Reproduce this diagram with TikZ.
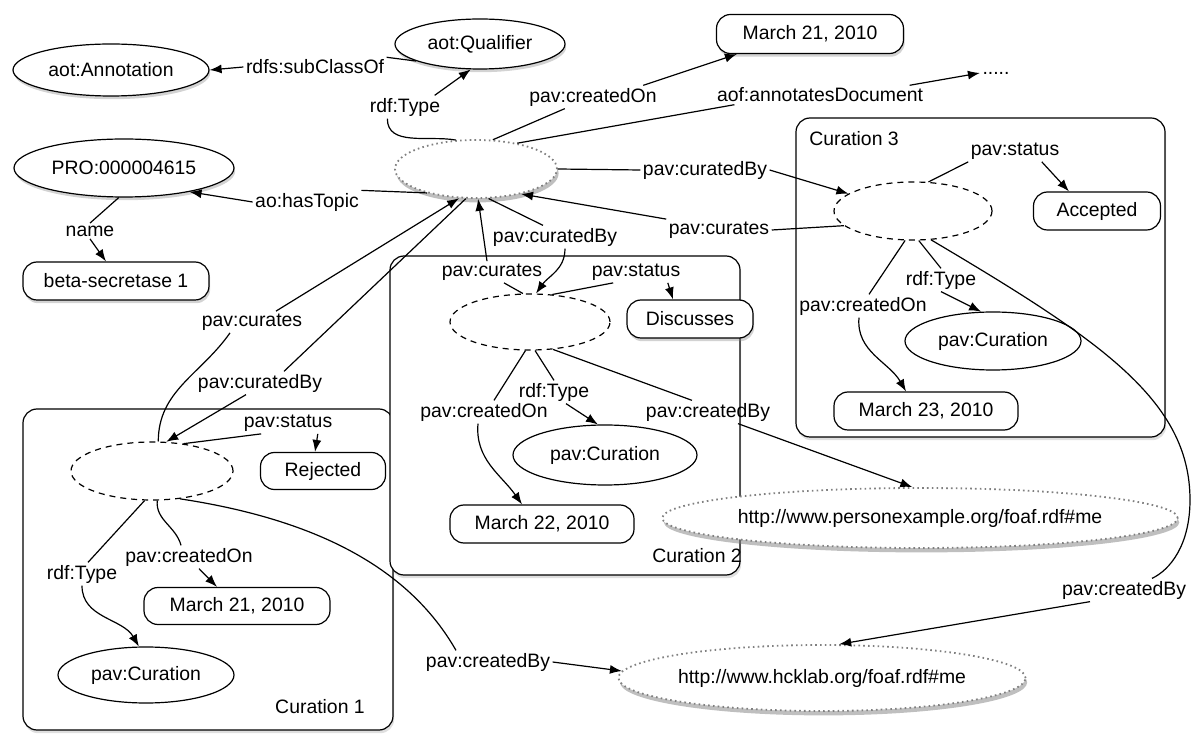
\documentclass[tikz,border=0pt]{standalone}
\usepackage{fontspec}
\setmainfont{Liberation Sans}
\usetikzlibrary{shapes.geometric,arrows.meta,shadows}
\begin{document}
\begin{tikzpicture}[x=0.5pt,y=-0.5pt,
  font=\fontsize{9.7}{11}\selectfont,
  line width=0.6pt,
  arr/.style={-{Latex[length=6pt,width=4.5pt]}},
  lbl/.style={inner sep=1pt},
  ell/.style={ellipse,draw,fill=white,inner sep=0pt},
  sol/.style={ell,drop shadow={shadow xshift=0.6pt,shadow yshift=-1.6pt,opacity=0.35}},
  dsh/.style={ell,dash pattern=on 3pt off 2.5pt},
  grey/.style={ell,draw=gray,dash pattern=on 0.8pt off 1.6pt,line width=0.9pt,drop shadow={shadow xshift=0.8pt,shadow yshift=-2.2pt,opacity=0.5}},
  rbox/.style={rectangle,draw,fill=white,rounded corners=7pt,inner sep=0pt},
  rboxs/.style={rbox,drop shadow={shadow xshift=0.6pt,shadow yshift=-1.6pt,opacity=0.35}},
  cbox/.style={rectangle,draw,fill=white,rounded corners=7pt,inner sep=0pt,drop shadow={shadow xshift=0.6pt,shadow yshift=-1.6pt,opacity=0.25}},
]
\useasboundingbox (0,0) rectangle (1200,753);

% curation boxes
\node[cbox,minimum width=185pt,minimum height=160.5pt] (box1) at (208,569.5) {};
\node[cbox,minimum width=175pt,minimum height=159.5pt] (box2) at (565,415.5) {};
\node[cbox,minimum width=184.5pt,minimum height=159.5pt] (box3) at (980.5,277.5) {};
\node[lbl] (t3) at (854,139) {Curation 3};
\node[lbl] (t2) at (697,556) {Curation 2};
\node[lbl] (t1) at (320,707) {Curation 1};

% top-level nodes
\node[sol,minimum width=98pt,minimum height=26pt] (annot) at (111,70) {aot:Annotation};
\node[sol,minimum width=85pt,minimum height=25pt] (qual) at (480,44) {aot:Qualifier};
\node[rboxs,minimum width=93.5pt,minimum height=19.5pt] (m21a) at (810,34) {March 21, 2010};
\node[lbl] (dots) at (996,73) {.....};
\node[sol,minimum width=110pt,minimum height=29pt] (pro) at (124,168) {PRO:000004615};
\node[rboxs,minimum width=93pt,minimum height=19pt] (beta) at (116,281) {beta-secretase 1};
\node[grey,minimum width=81pt,minimum height=29pt] (main) at (476,169) {};

% curation 3
\node[dsh,minimum width=79pt,minimum height=29pt] (c3) at (913,211) {};
\node[rbox,minimum width=63.5pt,minimum height=19pt] (acc) at (1097,211) {Accepted};
\node[ell,minimum width=88pt,minimum height=29pt] (pc3) at (993,341) {pav:Curation};
\node[rbox,minimum width=92pt,minimum height=19pt] (m23) at (926,411) {March 23, 2010};

% curation 2
\node[dsh,minimum width=80pt,minimum height=28pt] (c2) at (530,322) {};
\node[rboxs,minimum width=63pt,minimum height=19pt] (disc) at (690,319) {Discusses};
\node[ell,minimum width=92pt,minimum height=30pt] (pc2) at (605,455) {pav:Curation};
\node[rbox,minimum width=92pt,minimum height=19pt] (m22) at (542,524) {March 22, 2010};

% curation 1
\node[dsh,minimum width=81pt,minimum height=29pt] (c1) at (152,471) {};
\node[rbox,minimum width=62.5pt,minimum height=18.5pt] (rej) at (323,471) {Rejected};
\node[rbox,minimum width=93pt,minimum height=18.5pt] (m21b) at (237,606) {March 21, 2010};
\node[ell,minimum width=88pt,minimum height=28pt] (pc1) at (146,675) {pav:Curation};

% agents
\node[grey,minimum width=245pt,minimum height=30pt] (pe) at (920,518) {http://www.personexample.org/foaf.rdf\#me};
\node[grey,minimum width=199pt,minimum height=33pt] (hck) at (822,678) {http://www.hcklab.org/foaf.rdf\#me};

% labels
\node[lbl] (lsub) at (315,67) {rdfs:subClassOf};
\node[lbl] (ltype0) at (405,107) {rdf:Type};
\node[lbl] (lcon0) at (593,97) {pav:createdOn};
\node[lbl] (lannot) at (820,95) {aof:annotatesDocument};
\node[lbl] (lcby0) at (705,170) {pav:curatedBy};
\node[lbl] (lcur3) at (719,230) {pav:curates};
\node[lbl] (ltopic) at (307,202) {ao:hasTopic};
\node[lbl] (lname) at (90,231) {name};
\node[lbl] (lst3) at (1015,151) {pav:status};
\node[lbl] (lty3) at (941,280) {rdf:Type};
\node[lbl] (lco3) at (863,306) {pav:createdOn};
\node[lbl] (lcb3) at (1124,590) {pav:createdBy};
\node[lbl] (lcur2) at (492,272) {pav:curates};
\node[lbl] (lcby2) at (555,237) {pav:curatedBy};
\node[lbl] (lst2) at (636,272) {pav:status};
\node[lbl] (lty2) at (554,392) {rdf:Type};
\node[lbl] (lco2) at (484,412) {pav:createdOn};
\node[lbl] (lcb2) at (708,412) {pav:createdBy};
\node[lbl] (lcur1) at (252,322) {pav:curates};
\node[lbl] (lcby1) at (260,383) {pav:curatedBy};
\node[lbl] (lst1) at (288,423) {pav:status};
\node[lbl] (lco1) at (189,557) {pav:createdOn};
\node[lbl] (lty1) at (82,574) {rdf:Type};
\node[lbl] (lcb1) at (488,662) {pav:createdBy};

% edges: top
\draw (qual.195) -- (lsub.north east);
\draw[arr] (lsub.west) -- (annot.east);
\draw (main.125) to[out=170,in=-90] ([xshift=10pt]ltype0.south west);
\draw[arr] ([xshift=-4pt]ltype0.north east) -- (qual.250);
\draw (main.60) -- ([xshift=19pt]lcon0.south west);
\draw[arr] ([xshift=-8pt]lcon0.north east) -- ([xshift=10.5pt]m21a.south west);
\draw (main.32) -- ([xshift=10pt]lannot.south west);
\draw[arr] ([xshift=-8pt]lannot.north east) -- (dots.west);
\draw (main.east) -- (lcby0.west);
\draw[arr] (lcby0.east) -- (c3.165);
\draw (c3.192) -- (lcur3.east);
\draw[arr] (lcur3.north west) -- (main.-29);
\draw (main.206) -- (ltopic.north east);
\draw[arr] (ltopic.west) -- (pro.-20);
\draw (pro.-100) -- (lname.north);
\draw[arr] (lname.south) -- ([xshift=-5pt]beta.north);

% curation 3 edges
\draw (c3.62) -- (lst3.south west);
\draw[arr] ([xshift=-10pt]lst3.south east) -- ([xshift=-14pt]acc.north);
\draw (c3.-79) -- (lty3.north);
\draw[arr] (lty3.south) -- (pc3.112);
\draw (c3.-105) -- ([xshift=3pt]lco3.north);
\draw[arr] ([xshift=-2pt]lco3.south) to[out=-95,in=120] ([xshift=-10pt]m23.north);
\draw (c3.-58) .. controls (1100,340) and (1190,400) .. (1190,500) .. controls (1190,545) and (1170,570) .. ([xshift=14pt]lcb3.north);
\draw[arr] ([xshift=-17pt]lcb3.south) -- (hck.63);

% curation 2 edges
\draw (c2.104) -- ([xshift=6pt]lcur2.south);
\draw[arr] ([xshift=-2.5pt]lcur2.north) -- (main.-86);
\draw (main.-67) -- ([xshift=-6pt]lcby2.north);
\draw[arr] ([xshift=5pt]lcby2.south) to[out=-90,in=55] (c2.78);
\draw (c2.51) -- ([xshift=12pt]lst2.south west);
\draw[arr] ([xshift=-7.5pt]lst2.south east) -- ([xshift=-8.5pt]disc.north);
\draw (c2.-80) -- (lty2.north);
\draw[arr] ([xshift=6pt]lty2.south) -- (pc2.103);
\draw (c2.-99) -- ([xshift=5pt]lco2.north);
\draw[arr] ([xshift=-3pt]lco2.south) to[out=-95,in=125] ([xshift=-10pt]m22.north);
\draw (c2.-50) -- ([xshift=-8pt]lcb2.north);
\draw[arr] ([xshift=15pt]lcb2.south) -- (pe.104);

% curation 1 edges
\draw (c1.78) to[out=90,in=-125] ([xshift=-11pt]lcur1.south);
\draw[arr] ([xshift=12pt]lcur1.north) -- (main.-120);
\draw (main.-109) -- ([xshift=12pt]lcby1.north);
\draw[arr] ([xshift=-7pt]lcby1.south) -- (c1.64);
\draw (c1.41) -- ([xshift=10pt]lst1.south west);
\draw[arr] ([xshift=-8.5pt]lst1.south east) -- ([xshift=-4pt]rej.north);
\draw (c1.-80) to[out=-95,in=105] ([xshift=-4pt]lco1.north);
\draw[arr] ([xshift=5pt]lco1.south) -- ([xshift=-10pt]m21b.north);
\draw (c1.-104) -- ([xshift=3pt]lty1.north);
\draw[arr] (lty1.south) to[out=-90,in=120] (pc1.104);
\draw (c1.-45) .. controls (320,520) and (410,570) .. ([xshift=-16pt]lcb1.north);
\draw[arr] (lcb1.east) -- (hck.178);
\end{tikzpicture}
\end{document}
